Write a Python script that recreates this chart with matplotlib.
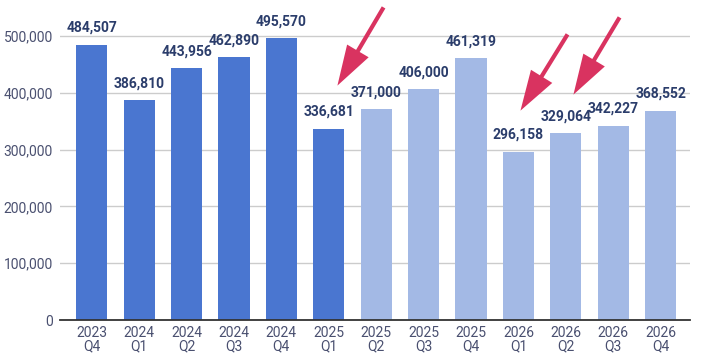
import matplotlib.pyplot as plt
from matplotlib.ticker import FuncFormatter

plt.rcParams['font.family'] = ['Roboto', 'DejaVu Sans']

years = ['2023', '2024', '2024', '2024', '2024', '2025', '2025', '2025', '2025',
         '2026', '2026', '2026', '2026']
quarters = ['Q4', 'Q1', 'Q2', 'Q3', 'Q4', 'Q1', 'Q2', 'Q3', 'Q4',
            'Q1', 'Q2', 'Q3', 'Q4']
values = [484507, 386810, 443956, 462890, 495570, 336681, 371000, 406000,
          461319, 296158, 329064, 342227, 368552]
is_actual = [True] * 6 + [False] * 7

# arrows drawn over the chart: (tail, tip) in figure pixels from top-left
arrows = [((385, 5), (336, 88)), ((569, 32), (519, 113)), ((621, 15), (572, 97))]

dark = '#4a76d0'
light = '#a3b9e5'
label_color = '#2b3d6b'
tick_color = '#4a5070'

fig = plt.figure(figsize=(7.03, 3.64), dpi=100)
ax = fig.add_axes([60 / 703, 44 / 364, 630 / 703, (364 - 44 - 24.6) / 364])

x = list(range(len(values)))
colors = [dark if a else light for a in is_actual]
bars = ax.bar(x, values, width=0.66, color=colors, zorder=3)

for xi, v in zip(x, values):
    ax.annotate(f'{v:,}', (xi, v), xytext=(0, 7), textcoords='offset points',
                ha='center', va='bottom', fontsize=10, fontweight='bold',
                color=label_color, annotation_clip=False, zorder=4)

ax.set_xlim(-0.67, 12.62)
ax.set_ylim(0, 520000)
ax.set_yticks(range(0, 500001, 100000))
ax.yaxis.set_major_formatter(FuncFormatter(lambda v, p: f'{int(v):,}'))
ax.set_xticks(x)
ax.set_xticklabels([f'{y}\n{q}' for y, q in zip(years, quarters)], linespacing=0.95)
ax.tick_params(axis='both', length=0, labelsize=10, labelcolor=tick_color)
ax.tick_params(axis='y', pad=5)
ax.tick_params(axis='x', pad=4)

ax.grid(axis='y', color='#cccccc', linewidth=1, zorder=0)
for s in ['top', 'right', 'left']:
    ax.spines[s].set_visible(False)
ax.spines['bottom'].set_color('#333333')
ax.spines['bottom'].set_linewidth(1.3)
ax.spines['bottom'].set_zorder(5)

for (x0, y0), (x1, y1) in arrows:
    fig.patches.append(plt.matplotlib.patches.FancyArrowPatch(
        (x0, 364 - y0), (x1, 364 - y1), transform=None,
        arrowstyle='simple,head_length=2.9,head_width=1.8,tail_width=0.3',
        mutation_scale=10, color='#d93360', lw=0, zorder=10))

fig.savefig('out.png', dpi=100)
